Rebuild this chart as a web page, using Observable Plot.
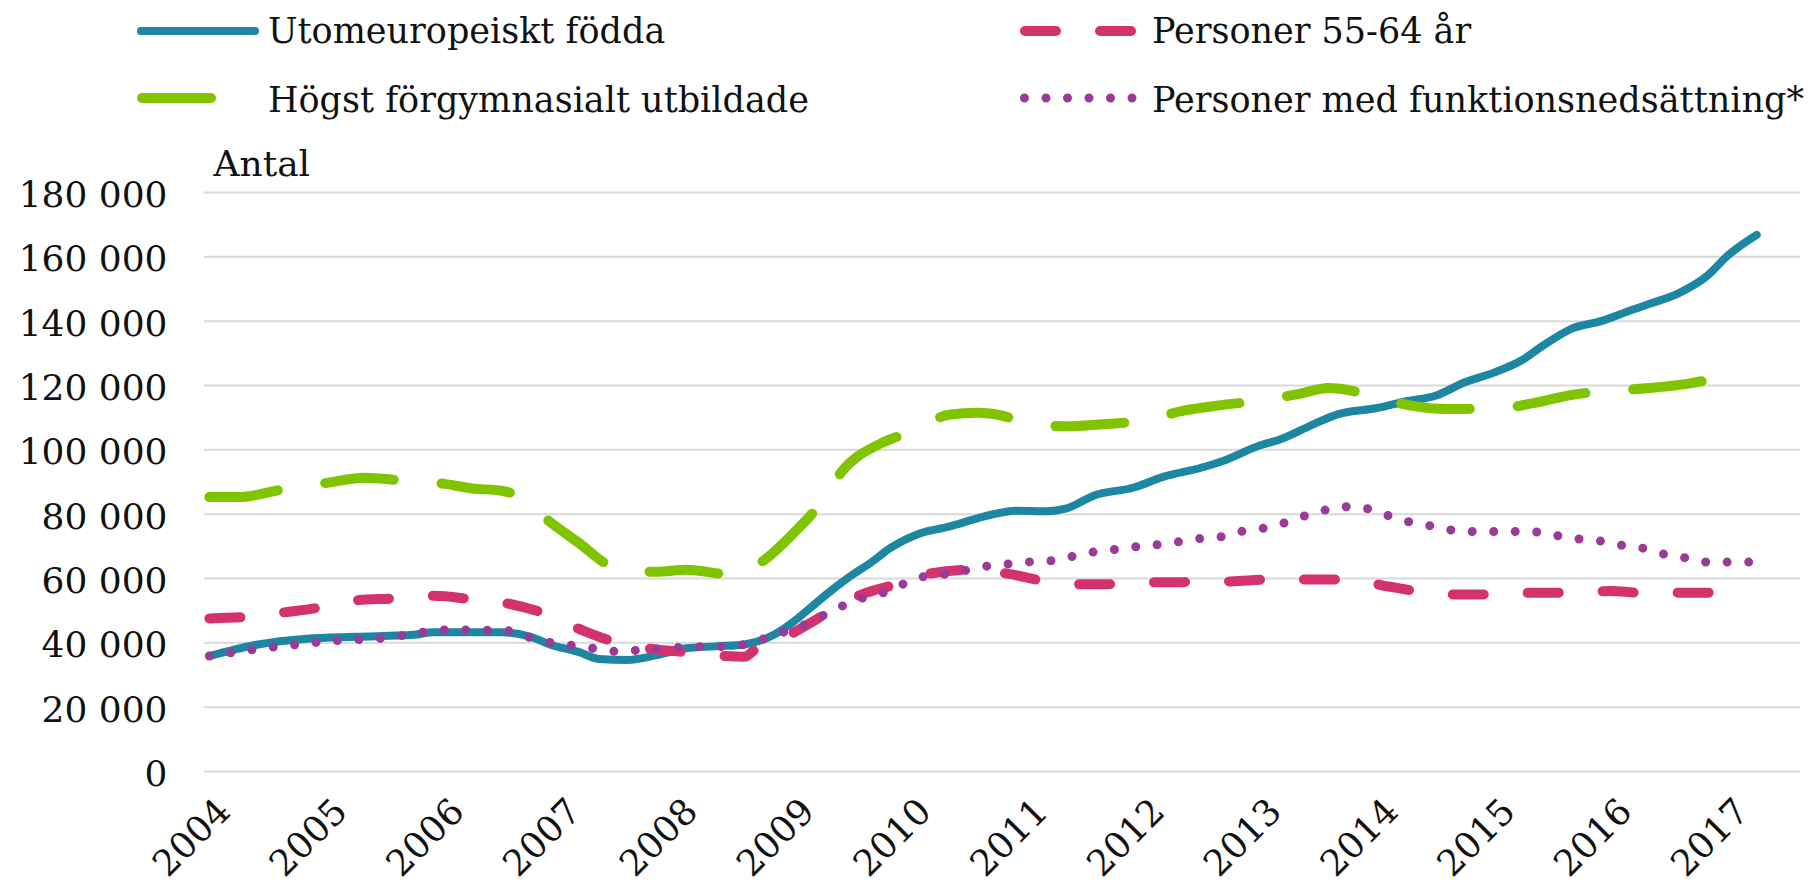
<!DOCTYPE html>
<html><head><meta charset="utf-8">
<script src="https://cdn.jsdelivr.net/npm/d3@7"></script>
<script src="https://cdn.jsdelivr.net/npm/@observablehq/plot@0.6"></script>
<style>
body{margin:0;background:#fff;}
#wrap{width:1817px;height:886px;position:relative;overflow:hidden;}
#legend{display:block;}
#chart svg{display:block;}
</style></head><body>
<div id="wrap"><div id="legend"></div><div id="chart"></div></div>
<script>
// Year tick labels (one per January, month index 0, 12, 24, ...)
const yearLabels = ["2004","2005","2006","2007","2008","2009","2010","2011","2012","2013","2014","2015","2016","2017"];
const yTicks = [0,20000,40000,60000,80000,100000,120000,140000,160000,180000];
const seriesNames = ["Utomeuropeiskt födda","Högst förgymnasialt utbildade","Personer 55-64 år","Personer med funktionsnedsättning*"];
const seriesColors = ["#1c86a3","#80c400","#d4326f","#9a3c97"];

// Month index = months since January 2004
const utomMonths = [0,5,10,15,21,23,26,30,33,35,38,40,43,46,49,52,55,58,60,62,64,66,68,70,73,76,77,79,83,86,88,91,95,98,102,104,108,110,113,116,120,123,126,129,132,135,137,140,143,146,148,151,154,156,159];
const utomValues = [35900,39500,41300,41900,42500,43300,43300,43300,41900,39500,37100,35000,34700,36200,38300,38900,39500,42500,46500,51500,56500,61000,65000,69500,74000,76100,77000,78800,81100,80900,81700,85900,88300,91600,94500,96400,101400,103200,107300,111100,113000,115100,116800,121000,124000,128100,132300,137700,140000,143300,145400,148700,154300,160300,166800];

const hogstMonths = [0,3,8,12,16,20,24,27,30,32,35,38,41,44,46,49,54,57,60,63,65,69,72,76,79,81,84,88,93,96,100,104,108,112,115,117,120,124,127,132,136,140,144,148,152,156];
const hogstValues = [85300,85300,88000,89700,91300,90400,89500,88000,87300,85300,77600,71000,64200,62100,62100,62700,61100,65700,74000,84100,93300,102000,105500,110900,111500,110900,108500,107300,108200,109100,112100,113900,115300,117400,119200,118600,116200,113500,112700,112700,114500,117100,118300,119200,120600,123000];

const p5564Months = [0,4,8,11,15,19,23,27,31,34,38,41,45,49,53,55,56,60,63,67,71,74,78,82,86,90,93,97,101,105,109,113,117,121,124,128,132,136,140,144,147,152,155];
const p5564Values = [47600,48100,49600,50800,53200,53800,54600,53500,52000,49600,44300,40900,38300,37100,35900,35700,37700,43100,48400,55000,58500,61500,62700,61500,59100,58200,58200,58800,58900,59100,59700,59700,59700,57600,56100,55000,55000,55600,55600,56100,55600,55600,55600];

const funkMonths = [0,4,9,13,18,22,24,26,31,33,35,37,39,42,44,46,48,50,53,55,57,59,61,63,65,67,69,71,73,76,78,80,82,84,87,89,91,93,95,98,100,102,104,106,109,111,113,115,117,119,121,123,126,128,130,132,134,137,139,141,143,145,148,150,152,154,156,159];
const funkValues = [35900,37700,39500,40700,41500,43300,44000,44000,43700,41600,40100,39300,38500,37300,37700,38100,38500,38800,38800,39500,41300,43300,45400,48400,51400,53800,55300,57900,60300,61500,62700,63900,64500,65100,65700,67100,68300,69000,69800,70700,71600,72500,73000,74600,76000,77800,79900,81500,82300,81700,79700,77800,76100,74900,74600,74600,74600,74400,73000,72200,71600,70400,69000,67100,66300,65100,65100,65100];

const seriesMonths = [utomMonths, hogstMonths, p5564Months, funkMonths];
const seriesValues = [utomValues, hogstValues, p5564Values, funkValues];
const seriesStyle = [
  {strokeWidth: 8, dash: null},
  {strokeWidth: 10, dash: "69,48"},
  {strokeWidth: 10, dash: "31,44"},
  {strokeWidth: 9, dash: "0,21.5"}
];

const FONT = "'DejaVu Serif', serif";

// ---------- Legend (above the plot) ----------
const legend = d3.select("#legend").append("svg")
  .attr("width", 1817).attr("height", 120)
  .style("display", "block")
  .style("font-family", FONT);
const legendPos = [
  {x1: 141, x2: 255, y: 31, tx: 268, ty: 43},
  {x1: 142, x2: 217, y: 98, tx: 268, ty: 112},
  {x1: 1025, x2: 1132, y: 31, tx: 1152, ty: 43},
  {x1: 1024.5, x2: 1133, y: 98, tx: 1152, ty: 112}
];
seriesNames.forEach((name, i) => {
  const p = legendPos[i], s = seriesStyle[i];
  legend.append("line")
    .attr("x1", p.x1).attr("x2", p.x2).attr("y1", p.y).attr("y2", p.y)
    .attr("stroke", seriesColors[i]).attr("stroke-width", s.strokeWidth)
    .attr("stroke-linecap", "round")
    .attr("stroke-dasharray", s.dash);
  legend.append("text")
    .attr("x", p.tx).attr("y", p.ty)
    .attr("font-size", 35).attr("fill", "#111")
    .text(name);
});

// ---------- Data table ----------
const rows = [];
seriesNames.forEach((name, i) => {
  seriesMonths[i].forEach((m, j) => rows.push({series: name, m, v: seriesValues[i][j]}));
});

const xTicks = yearLabels.map((_, i) => i * 12);
const fmt = d => d3.format(",")(d).replace(/,/g, " ");

const lineMarks = seriesNames.map((name, i) => Plot.line(rows.filter(r => r.series === name), {
  x: "m", y: "v",
  stroke: seriesColors[i],
  strokeWidth: seriesStyle[i].strokeWidth,
  strokeDasharray: seriesStyle[i].dash || undefined,
  strokeLinecap: "round",
  strokeLinejoin: "round",
  curve: "monotone-x"
}));

const chart = Plot.plot({
  width: 1817,
  height: 766,
  marginLeft: 204,
  marginRight: 17,
  marginTop: 72,
  marginBottom: 115,
  style: {fontFamily: FONT, fontSize: "36px", color: "#111", background: "#fff", overflow: "visible"},
  x: {domain: [-0.5, 163.5]},
  y: {domain: [0, 180000]},
  marks: [
    Plot.gridY(yTicks, {stroke: "#d9d9d9", strokeOpacity: 1, strokeWidth: 2}),
    Plot.axisY(yTicks, {tickSize: 0, tickPadding: 37, tickFormat: fmt, label: null, dy: 3}),
    Plot.axisX(xTicks, {tickSize: 0, tickRotate: -45, tickFormat: i => yearLabels[i / 12], label: null, tickPadding: 34, dx: 15}),
    ...lineMarks,
    Plot.text(["Antal"], {frameAnchor: "top-left", text: d => d, textAnchor: "start", lineAnchor: "bottom", dx: 9, dy: -17, fontSize: 36, fill: "#111"})
  ]
});
document.getElementById("chart").appendChild(chart);
</script>
</body></html>
